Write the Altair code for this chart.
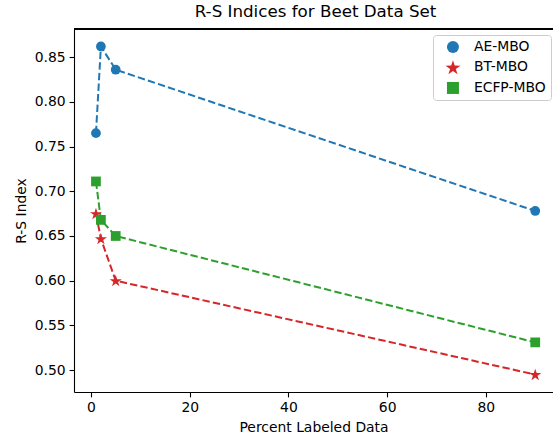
import math
import altair as alt
import pandas as pd

# ---- data ----
pct = [1, 2, 5, 90]
ae_mbo = [0.765, 0.862, 0.836, 0.678]
bt_mbo = [0.675, 0.647, 0.600, 0.495]
ecfp_mbo = [0.711, 0.668, 0.650, 0.531]
series_names = ["AE-MBO", "BT-MBO", "ECFP-MBO"]
x_ticks = [0, 20, 40, 60, 80]
y_ticks = [0.50, 0.55, 0.60, 0.65, 0.70, 0.75, 0.80, 0.85]

rows = []
for name, vals in zip(series_names, [ae_mbo, bt_mbo, ecfp_mbo]):
    for x, y in zip(pct, vals):
        rows.append({"series": name, "x": x, "y": y})
df = pd.DataFrame(rows)

# star symbol path
pts = []
for i in range(10):
    r = 1.3 if i % 2 == 0 else 0.5
    a = math.radians(-90 + 36 * i)
    pts.append(f"{r*math.cos(a):.3f},{r*math.sin(a) + 0.1:.3f}")
star = "M" + "L".join(pts) + "Z"

colors = ["#1f77b4", "#d62728", "#2ca02c"]
shapes = ["circle", star, "square"]
FONT = "DejaVu Sans"
W, H = 479, 363

xs = alt.X("x:Q", scale=alt.Scale(domain=[-3.45, 93.6], nice=False, zero=False),
           axis=alt.Axis(values=x_ticks, title="Percent Labeled Data", grid=False,
                         format="d"))
ys = alt.Y("y:Q", scale=alt.Scale(domain=[0.4755, 0.8815], nice=False, zero=False),
           axis=alt.Axis(values=y_ticks, title="R-S Index", grid=False, format=".2f"))

line_layers = []
for name, col in zip(series_names, colors):
    line_layers.append(
        alt.Chart(df).transform_filter(alt.datum.series == name)
        .mark_line(strokeDash=[7.4, 3.2], strokeWidth=2, color=col)
        .encode(x=xs, y=ys)
    )
points = alt.Chart(df).mark_point(filled=True, opacity=1, size=95).encode(
    x=xs, y=ys,
    color=alt.Color("series:N", scale=alt.Scale(domain=series_names, range=colors),
                    legend=alt.Legend(title=None)),
    shape=alt.Shape("series:N", scale=alt.Scale(domain=series_names, range=shapes),
                    legend=alt.Legend(title=None)),
)
top = alt.Chart(df).mark_rule(color="black", strokeWidth=1.1).encode(
    y=alt.value(0), x=alt.value(0), x2=alt.value(W)
)

chart = alt.layer(*line_layers, points, top).properties(
    width=W, height=H,
    title=alt.TitleParams("R-S Indices for Beet Data Set", font=FONT, fontSize=16.7,
                          fontWeight="normal", color="black", anchor="middle", offset=8, dx=2),
    autosize=alt.AutoSizeParams(type="none"),
    padding={"left": 74, "top": 29, "right": 0, "bottom": 43},
).configure_view(stroke=None).configure_axis(
    labelFont=FONT, labelFontSize=13.9, labelColor="black", titleFont=FONT,
    titleFontSize=13.9, titleFontWeight="normal", titleColor="black",
    domainColor="black", domainWidth=1.1, tickColor="black", tickWidth=1.1, tickSize=4.9,
    labelPadding=4, titlePadding=6,
).configure_legend(
    orient="none", legendX=359, legendY=6, strokeColor="#cccccc", fillColor="white",
    padding=5, cornerRadius=3, labelFont=FONT, labelFontSize=13.9, labelColor="black",
    symbolSize=144, rowPadding=5.5, labelOffset=14, symbolOffset=8, symbolStrokeWidth=0,
)

chart.save("out.html", embed_options={"renderer": "svg", "actions": False})
